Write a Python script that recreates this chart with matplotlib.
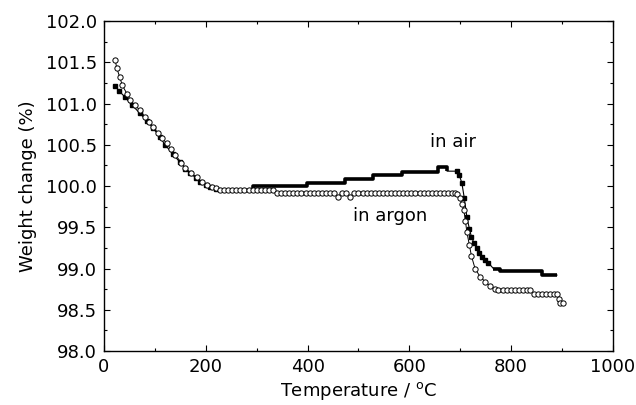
import numpy as np
import matplotlib
matplotlib.use('Agg')
import matplotlib.pyplot as plt
from matplotlib.ticker import MultipleLocator

# =========================
# DATA
# =========================

air_points = [
    (22, 101.21), (30, 101.15), (41, 101.08), (55, 100.98), (71, 100.88),
    (84, 100.79), (97, 100.70), (110, 100.59), (120, 100.50), (135, 100.39),
    (149, 100.29), (160, 100.21), (169, 100.16), (180, 100.10), (189, 100.05),
    (200, 100.01), (208, 99.99), (220, 99.96), (293, 99.96), (293, 100.00),
    (399, 100.00), (399, 100.04), (473, 100.04), (473, 100.08), (528, 100.08),
    (528, 100.13), (585, 100.13), (585, 100.17), (656, 100.17), (656, 100.23),
    (674, 100.23), (674, 100.18), (693, 100.18), (698, 100.13), (703, 100.04),
    (708, 99.85), (713, 99.62), (718, 99.48), (722, 99.38), (727, 99.31),
    (732, 99.25), (737, 99.19), (742, 99.14), (748, 99.10), (755, 99.07),
    (765, 99.00), (778, 99.00), (778, 98.97), (860, 98.97), (860, 98.92),
    (890, 98.92),
]

argon_points = [
    (22, 101.53), (25, 101.43), (31, 101.32), (36, 101.22), (45, 101.12),
    (52, 101.04), (60, 100.98), (71, 100.92), (80, 100.84), (89, 100.77),
    (97, 100.72), (106, 100.64), (114, 100.58), (123, 100.52), (131, 100.45),
    (140, 100.38), (152, 100.28), (160, 100.22), (170, 100.16), (182, 100.11),
    (192, 100.05), (202, 100.01), (212, 99.99), (220, 99.97), (228, 99.95),
    (236, 99.95), (244, 99.95), (252, 99.95), (260, 99.95), (268, 99.95),
    (276, 99.95), (284, 99.95), (292, 99.95), (300, 99.95), (308, 99.95),
    (316, 99.95), (324, 99.95), (332, 99.95), (340, 99.92), (348, 99.92),
    (356, 99.92), (364, 99.92), (372, 99.92), (380, 99.92), (388, 99.92),
    (396, 99.92), (404, 99.92), (412, 99.92), (420, 99.92), (428, 99.92),
    (436, 99.92), (444, 99.92), (452, 99.92), (460, 99.87), (468, 99.92),
    (476, 99.92), (484, 99.87), (492, 99.92), (500, 99.92), (508, 99.92),
    (516, 99.92), (524, 99.92), (532, 99.92), (540, 99.92), (548, 99.92),
    (556, 99.92), (564, 99.92), (572, 99.92), (580, 99.92), (588, 99.92),
    (596, 99.92), (604, 99.92), (612, 99.92), (620, 99.92), (628, 99.92),
    (636, 99.92), (644, 99.92), (652, 99.92), (660, 99.92), (668, 99.92),
    (676, 99.92), (684, 99.92), (690, 99.92), (693, 99.90), (699, 99.85),
    (704, 99.78), (707, 99.71), (710, 99.58), (713, 99.44), (718, 99.28),
    (722, 99.15), (729, 99.00), (739, 98.90), (749, 98.84), (758, 98.79),
    (768, 98.75), (775, 98.74), (783, 98.74), (791, 98.74), (799, 98.74),
    (807, 98.74), (815, 98.74), (823, 98.74), (831, 98.74), (837, 98.74),
    (845, 98.69), (853, 98.69), (861, 98.69), (869, 98.69), (877, 98.69),
    (885, 98.69), (890, 98.69), (893, 98.63), (896, 98.58), (902, 98.58),
]

x_ticks = [0, 200, 400, 600, 800, 1000]
y_ticks = [98.0, 98.5, 99.0, 99.5, 100.0, 100.5, 101.0, 101.5, 102.0]

air_t, air_w = np.array(air_points).T
arg_t, arg_w = np.array(argon_points).T

# =========================
# PLOT
# =========================

plt.rcParams['font.family'] = ['DejaVu Sans']
plt.rcParams['font.size'] = 13
plt.rcParams['mathtext.fontset'] = 'dejavusans'

fig = plt.figure(figsize=(6.36, 4.05), dpi=100)
ax = fig.add_axes([0.1635, 0.1333, 0.8003, 0.8148])

# argon: open circles with thin line
ax.plot(arg_t, arg_w, color='black', lw=0.7, marker='o', ms=3.8,
        mfc='white', mec='black', mew=0.7, zorder=3)

# air: filled squares on the slopes, thick line on the flat parts
flat = (air_t >= 293) & ~((air_t > 690) & (air_t < 760))
ax.plot(air_t, air_w, color='black', lw=0.8, marker='s', ms=2.6,
        mfc='black', mec='black', markevery=list(np.where(~flat)[0]),
        zorder=2)
ax.plot(np.where(flat, air_t, np.nan), np.where(flat, air_w, np.nan),
        color='black', lw=2.6, solid_capstyle='butt', zorder=2)

ax.text(686, 100.53, 'in air', ha='center', va='center')
ax.text(562, 99.64, 'in argon', ha='center', va='center')

ax.set_xlim(0, 1000)
ax.set_ylim(98.0, 102.0)
ax.set_xticks(x_ticks)
ax.set_yticks(y_ticks)
ax.set_yticklabels(['%.1f' % v for v in y_ticks])
ax.xaxis.set_minor_locator(MultipleLocator(100))
ax.yaxis.set_minor_locator(MultipleLocator(0.25))
ax.tick_params(which='both', direction='in', top=True, right=True, width=0.8)
ax.tick_params(which='major', length=4.5, pad=5)
ax.tick_params(which='minor', length=2.5)
for s in ax.spines.values():
    s.set_linewidth(1.0)

ax.set_xlabel('Temperature / $^{\\mathrm{o}}$C', labelpad=3)
ax.set_ylabel('Weight change (%)', labelpad=6)

plt.savefig('out.png', dpi=100)
